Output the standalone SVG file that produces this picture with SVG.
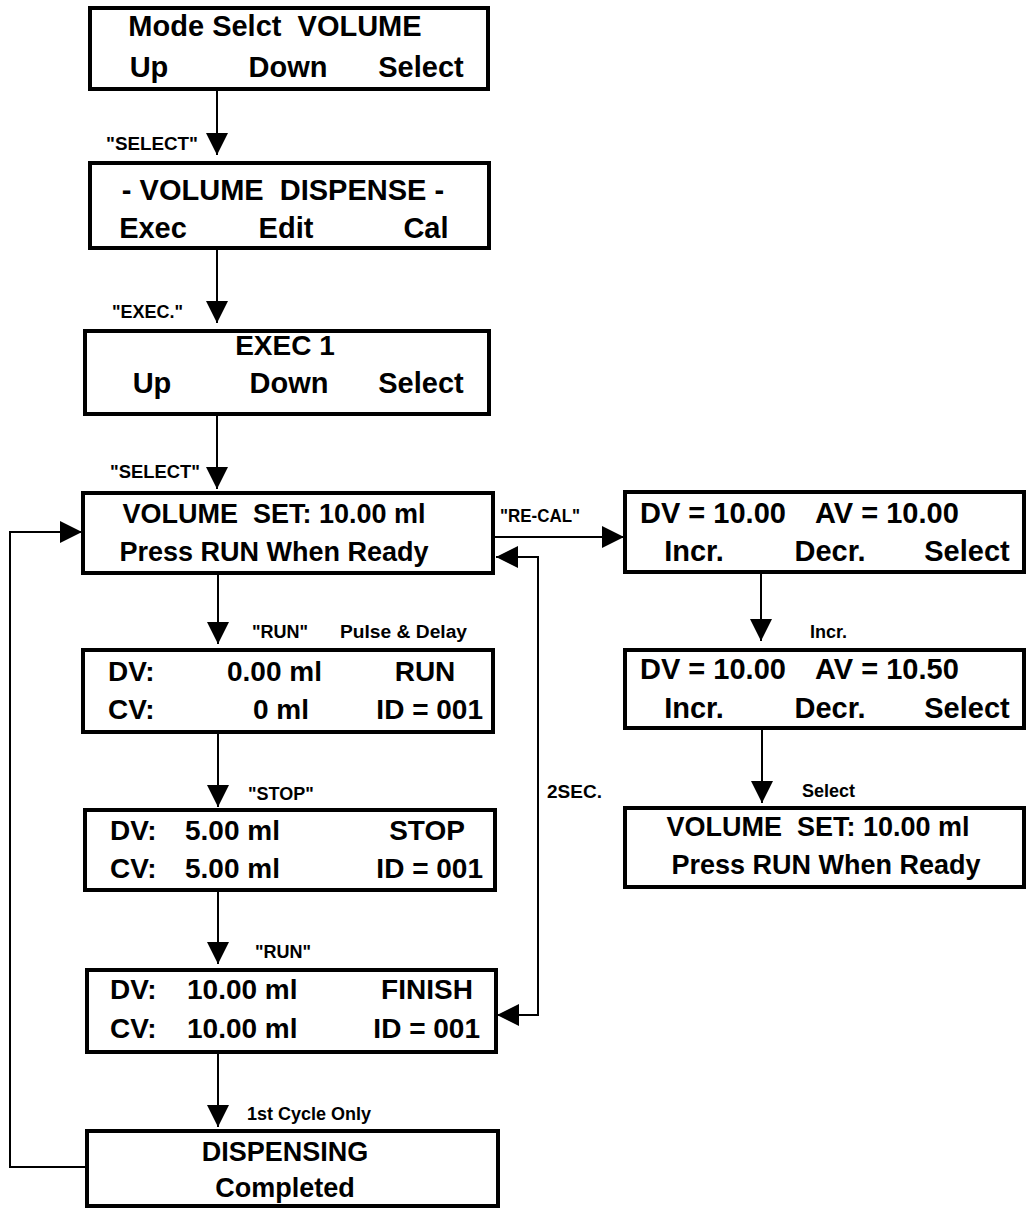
<svg xmlns="http://www.w3.org/2000/svg" width="1027" height="1211" viewBox="0 0 1027 1211">
<style>
.box{fill:#fff;stroke:#000;stroke-width:4}
.t{font-family:"Liberation Sans",Arial,sans-serif;font-weight:bold;font-size:28px;fill:#000}
.t27{font-size:27px}
.t29{font-size:29px}
.lb{font-family:"Liberation Sans",Arial,sans-serif;font-weight:bold;font-size:18px;fill:#000}
.m{text-anchor:middle}
.e{text-anchor:end}
.c{fill:none;stroke:#000;stroke-width:2}
</style>
<defs>
<marker id="ah" viewBox="0 0 22 22" refX="22" refY="11" markerWidth="22" markerHeight="22" markerUnits="userSpaceOnUse" orient="auto-start-reverse">
<path d="M0,0 L22,11 L0,22 z" fill="#000"/>
</marker>
</defs>
<rect width="1027" height="1211" fill="#fff"/>

<g id="connectors">
<path class="c" d="M217,89 V155" marker-end="url(#ah)"/>
<path class="c" d="M217,248 V323" marker-end="url(#ah)"/>
<path class="c" d="M217,414 V489" marker-end="url(#ah)"/>
<path class="c" d="M218,573 V644" marker-end="url(#ah)"/>
<path class="c" d="M218,732 V807" marker-end="url(#ah)"/>
<path class="c" d="M218,890 V964" marker-end="url(#ah)"/>
<path class="c" d="M218,1052 V1127" marker-end="url(#ah)"/>
<path class="c" d="M87,1167 H10 V532 H82" marker-end="url(#ah)"/>
<path class="c" d="M493,537 H624" marker-end="url(#ah)"/>
<path class="c" d="M496,557 H538 V1015 H497" marker-start="url(#ah)" marker-end="url(#ah)"/>
<path class="c" d="M761,572 V641" marker-end="url(#ah)"/>
<path class="c" d="M762,728 V803" marker-end="url(#ah)"/>
<text class="lb" x="106" y="150" textLength="92" lengthAdjust="spacingAndGlyphs">"SELECT"</text>
<text class="lb" x="112" y="318">"EXEC."</text>
<text class="lb" x="110" y="478" textLength="90" lengthAdjust="spacingAndGlyphs">"SELECT"</text>
<text class="lb" x="252" y="638">"RUN"</text>
<text class="lb" x="340" y="638" textLength="127" lengthAdjust="spacingAndGlyphs">Pulse &amp; Delay</text>
<text class="lb" x="500" y="522" textLength="80" lengthAdjust="spacingAndGlyphs">"RE-CAL"</text>
<text class="lb" x="248" y="800">"STOP"</text>
<text class="lb" x="255" y="958">"RUN"</text>
<text class="lb" x="247" y="1120">1st Cycle Only</text>
<text class="lb" x="547" y="798" style="font-size:19px">2SEC.</text>
<text class="lb" x="810" y="638">Incr.</text>
<text class="lb" x="802" y="797">Select</text>
</g>

<g id="mode-select">
<rect class="box" x="90" y="8" width="398" height="81"/>
<text class="t t29 m" x="275" y="36">Mode Selct&#160; VOLUME</text>
<text class="t t29 m" x="149" y="77">Up</text>
<text class="t t29 m" x="288" y="77">Down</text>
<text class="t t29 m" x="421" y="77">Select</text>
</g>

<g id="volume-dispense">
<rect class="box" x="90" y="163" width="399" height="85"/>
<text class="t t29 m" x="283" y="200">- VOLUME&#160; DISPENSE -</text>
<text class="t t29 m" x="153" y="238">Exec</text>
<text class="t t29 m" x="286" y="238">Edit</text>
<text class="t t29 m" x="426" y="238">Cal</text>
</g>

<g id="exec1">
<rect class="box" x="85" y="331" width="404" height="83"/>
<text class="t m" x="285" y="355">EXEC 1</text>
<text class="t t29 m" x="152" y="393">Up</text>
<text class="t t29 m" x="289" y="393">Down</text>
<text class="t t29 m" x="421" y="393">Select</text>
</g>

<g id="volume-set">
<rect class="box" x="83" y="493" width="410" height="80"/>
<text class="t t27 m" x="274" y="523">VOLUME&#160; SET: 10.00 ml</text>
<text class="t t27 m" x="274" y="561">Press RUN When Ready</text>
</g>

<g id="run">
<rect class="box" x="83" y="650" width="410" height="82"/>
<text class="t" x="108" y="681">DV:</text>
<text class="t" x="227" y="681">0.00 ml</text>
<text class="t m" x="425" y="681">RUN</text>
<text class="t" x="108" y="719">CV:</text>
<text class="t" x="253" y="719">0 ml</text>
<text class="t e" x="483" y="719">ID = 001</text>
</g>

<g id="stop">
<rect class="box" x="85" y="810" width="410" height="80"/>
<text class="t" x="110" y="840">DV:</text>
<text class="t" x="185" y="840">5.00 ml</text>
<text class="t m" x="427" y="840">STOP</text>
<text class="t" x="110" y="878">CV:</text>
<text class="t" x="185" y="878">5.00 ml</text>
<text class="t e" x="483" y="878">ID = 001</text>
</g>

<g id="finish">
<rect class="box" x="87" y="970" width="409" height="82"/>
<text class="t" x="110" y="999">DV:</text>
<text class="t" x="187" y="999">10.00 ml</text>
<text class="t m" x="427" y="999">FINISH</text>
<text class="t" x="110" y="1038">CV:</text>
<text class="t" x="187" y="1038">10.00 ml</text>
<text class="t e" x="480" y="1038">ID = 001</text>
</g>

<g id="dispensing">
<rect class="box" x="87" y="1131" width="411" height="75"/>
<text class="t t27 m" x="285" y="1161">DISPENSING</text>
<text class="t t27 m" x="285" y="1197">Completed</text>
</g>

<g id="recal-1">
<rect class="box" x="625" y="492" width="399" height="80"/>
<text class="t t29" x="640" y="523">DV = 10.00</text>
<text class="t t29" x="815" y="523">AV = 10.00</text>
<text class="t t29 m" x="694" y="561">Incr.</text>
<text class="t t29 m" x="830" y="561">Decr.</text>
<text class="t t29 m" x="967" y="561">Select</text>
</g>

<g id="recal-2">
<rect class="box" x="625" y="650" width="399" height="78"/>
<text class="t t29" x="640" y="679">DV = 10.00</text>
<text class="t t29" x="815" y="679">AV = 10.50</text>
<text class="t t29 m" x="694" y="718">Incr.</text>
<text class="t t29 m" x="830" y="718">Decr.</text>
<text class="t t29 m" x="967" y="718">Select</text>
</g>

<g id="recal-3">
<rect class="box" x="625" y="808" width="399" height="79"/>
<text class="t t27 m" x="818" y="836">VOLUME&#160; SET: 10.00 ml</text>
<text class="t t27 m" x="826" y="874">Press RUN When Ready</text>
</g>
</svg>
